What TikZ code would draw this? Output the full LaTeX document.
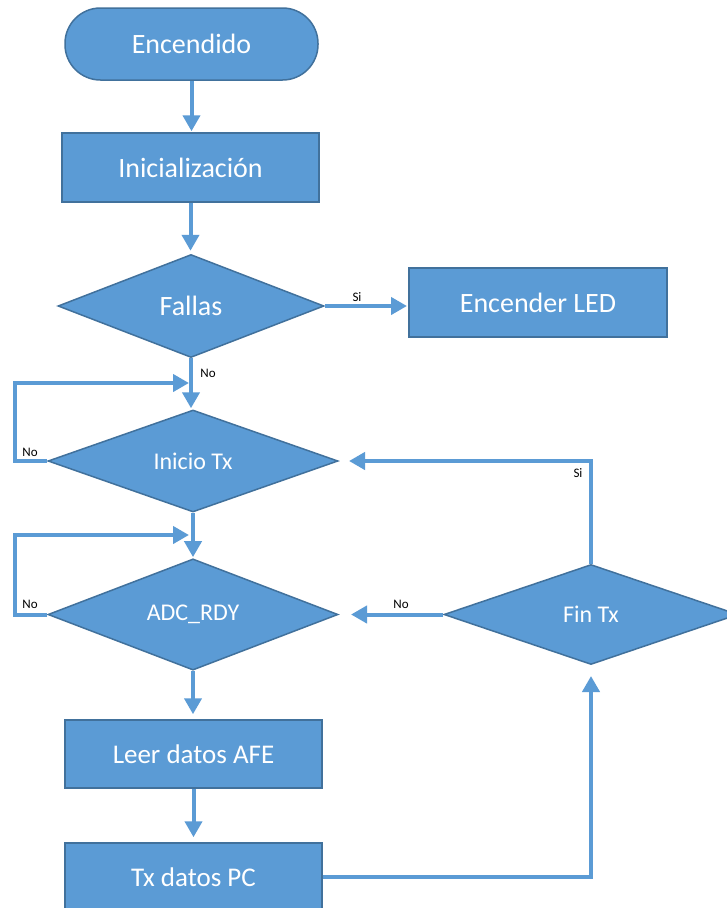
\documentclass[tikz,border=0pt]{standalone}
\usepackage{fontspec}
\setmainfont{Carlito}
\usetikzlibrary{arrows.meta,shapes.geometric}
\definecolor{boxfill}{HTML}{5B9BD5}
\definecolor{boxline}{HTML}{41719C}
\begin{document}
\begin{tikzpicture}[x=1pt,y=-1pt,
  base/.style={fill=boxfill,draw=boxline,line width=1.5pt,text=white,inner sep=0pt},
  term/.style={base,rectangle,rounded corners=35.5pt,minimum width=253pt,minimum height=72pt,font=\fontsize{28}{30}\selectfont},
  proc/.style={base,rectangle,minimum width=257pt,minimum height=69pt,font=\fontsize{28}{30}\selectfont},
  dec/.style={base,diamond,font=\fontsize{24}{26}\selectfont},
  flow/.style={draw=boxfill,line width=4pt,-{Triangle[width=17pt,length=16pt]}},
  lbl/.style={font=\fontsize{13}{14}\selectfont,text=black,inner sep=0pt}]
  \clip (0,0) rectangle (727,908);
  \fill[white] (0,0) rectangle (727,908);

  % blocks
  \node[term] (enc) at (191.5,44) {Encendido};
  \node[proc] (ini) at (190.5,167.5) {Inicialización};
  \node[dec,minimum width=266pt,minimum height=103pt,font=\fontsize{28}{30}\selectfont] (fal) at (191,306) {Fallas};
  \node[proc,minimum width=258pt] (led) at (538,302.5) {Encender LED};
  \node[dec,minimum width=290pt,minimum height=102pt] (itx) at (193,461) {Inicio Tx};
  \node[dec,minimum width=290pt,minimum height=101pt] (adc) at (193,614.5) {ADC\_RDY};
  \node[dec,minimum width=294pt,minimum height=100pt] (fin) at (591,614.5) {Fin Tx};
  \node[proc,minimum height=68pt,font=\fontsize{27}{29}\selectfont] (afe) at (193.5,754) {Leer datos AFE};
  \node[proc,minimum height=68pt,font=\fontsize{27}{29}\selectfont] (tx) at (193.5,877) {Tx datos PC};

  % free ends of the connectors
  \coordinate (ledin) at (407,306);
  \coordinate (lpA) at (15,383);
  \coordinate (itxin) at (189,383);
  \coordinate (lpB) at (15,535);
  \coordinate (adcin) at (189,535);
  \coordinate (itxright) at (349,461);
  \coordinate (adcright) at (351,614.5);
  \coordinate (finin) at (591,676);

  % main column
  \draw[flow,shorten >=1pt] (enc.south) -- (enc.south |- ini.north);
  \draw[flow,shorten >=3pt] (ini.south) -- (ini.south |- fal.north);
  \draw[flow,shorten >=1pt] (fal.south) -- (fal.south |- itx.north);
  \draw[flow,shorten >=1pt] (itx.south) -- (adc.north);
  \draw[flow,shorten >=5pt] (adc.south) -- (adc.south |- afe.north);
  \draw[flow,shorten >=5pt] (afe.south) -- (tx.north);

  % branches and loops
  \draw[flow] (fal.east) -- (ledin);
  \draw[flow] (itx.west) -| (lpA) -- (itxin);
  \draw[flow] (adc.west) -| (lpB) -- (adcin);
  \draw[flow] (fin.north) |- (itxright);
  \draw[flow] (fin.west) -- (adcright);
  \draw[flow] (tx.east) -| (finin);

  % branch labels
  \node[lbl] (siA) at (357,297) {Si};
  \node[lbl] (noA) at (208,373) {No};
  \node[lbl] (noB) at (30,452) {No};
  \node[lbl] (siB) at (578,473) {Si};
  \node[lbl] (noC) at (30,604) {No};
  \node[lbl] (noD) at (401,604) {No};
\end{tikzpicture}
\end{document}
